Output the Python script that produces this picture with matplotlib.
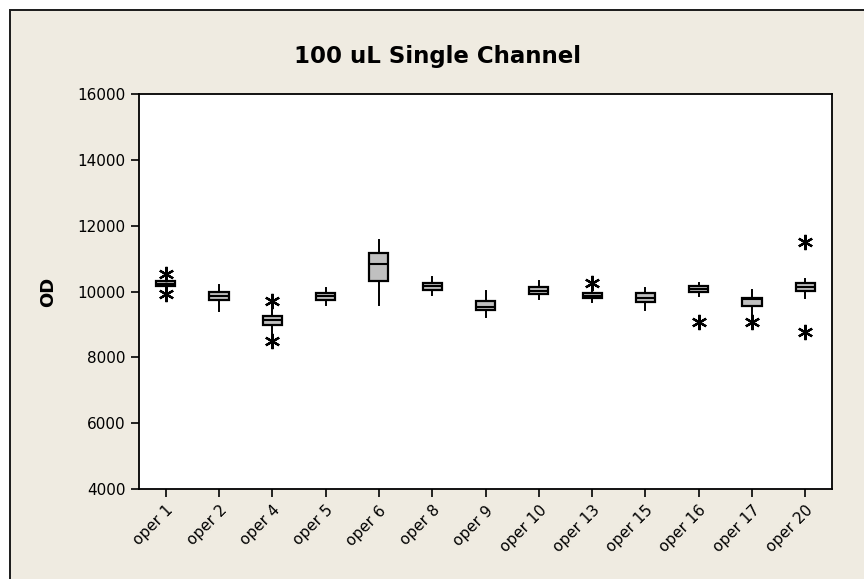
import matplotlib
matplotlib.use("Agg")
import matplotlib.pyplot as plt
from matplotlib.patches import Rectangle

categories = ["oper 1", "oper 2", "oper 4", "oper 5", "oper 6", "oper 8", "oper 9",
              "oper 10", "oper 13", "oper 15", "oper 16", "oper 17", "oper 20"]
q1 =      [10160, 9750, 8985, 9750, 10330, 10060, 9430, 9930, 9800, 9670, 9980, 9570, 10030]
median =  [10240, 9870, 9125, 9850, 10840, 10160, 9540, 10030, 9870, 9810, 10080, 9760, 10150]
q3 =      [10310, 9990, 9270, 9950, 11165, 10260, 9720, 10130, 9950, 9940, 10170, 9800, 10260]
wlo =     [10120, 9400, 8675, 9580, 9580, 9900, 9225, 9760, 9680, 9450, 9850, 9260, 9810]
whi =     [10360, 10210, 9510, 10110, 11557, 10430, 10020, 10330, 10080, 10110, 10250, 10060, 10370]
outliers = [[10530, 9930], [], [9720, 8495], [], [], [], [], [], [10250], [], [9065], [9065], [11515, 8755]]

W, H = 864, 579
fig = plt.figure(figsize=(W / 100, H / 100), dpi=100)
fig.patch.set_facecolor("white")
bg = "#EFEBE1"
fig.add_artist(Rectangle((10 / W, -0.1), 1.2, 1 - 10 / H + 0.1, transform=fig.transFigure,
                         facecolor=bg, edgecolor="#1a1a1a", linewidth=1.4, zorder=0))

ax = fig.add_axes([139 / W, 1 - 489 / H, (832 - 139) / W, (489 - 94) / H])
ax.set_facecolor("white")

stats = []
for i, c in enumerate(categories):
    stats.append(dict(label=c, q1=q1[i], med=median[i], q3=q3[i],
                      whislo=wlo[i], whishi=whi[i], fliers=outliers[i]))

ax.bxp(stats, positions=range(1, len(categories) + 1), widths=0.36,
       patch_artist=True, showcaps=False,
       boxprops=dict(facecolor="#C0C0C0", edgecolor="black", linewidth=1.6),
       medianprops=dict(color="black", linewidth=1.5),
       whiskerprops=dict(color="black", linewidth=1.4),
       flierprops=dict(marker=(6, 2, 0), markersize=11, markeredgecolor="black",
                       markeredgewidth=1.6, linestyle="none"))

ax.set_xlim(0.5, len(categories) + 0.5)
ax.set_ylim(4000, 16000)
ax.set_yticks([4000, 6000, 8000, 10000, 12000, 14000, 16000])
ax.set_xticks(range(1, len(categories) + 1))
ax.set_xticklabels(categories, rotation=45, ha="right", rotation_mode="anchor")
ax.tick_params(axis="both", direction="out", length=6, width=1.2, labelsize=11, colors="black")
ax.tick_params(axis="x", pad=4)
for s in ax.spines.values():
    s.set_linewidth(1.3)
    s.set_color("black")

fig.text(437 / W, 1 - 57 / H, "100 uL Single Channel", ha="center", va="center",
         fontsize=16.5, fontweight="bold")
fig.text(48 / W, 1 - 292 / H, "OD", ha="center", va="center", rotation=90,
         fontsize=13, fontweight="bold")

fig.savefig("out.png", dpi=100, facecolor=fig.get_facecolor())
